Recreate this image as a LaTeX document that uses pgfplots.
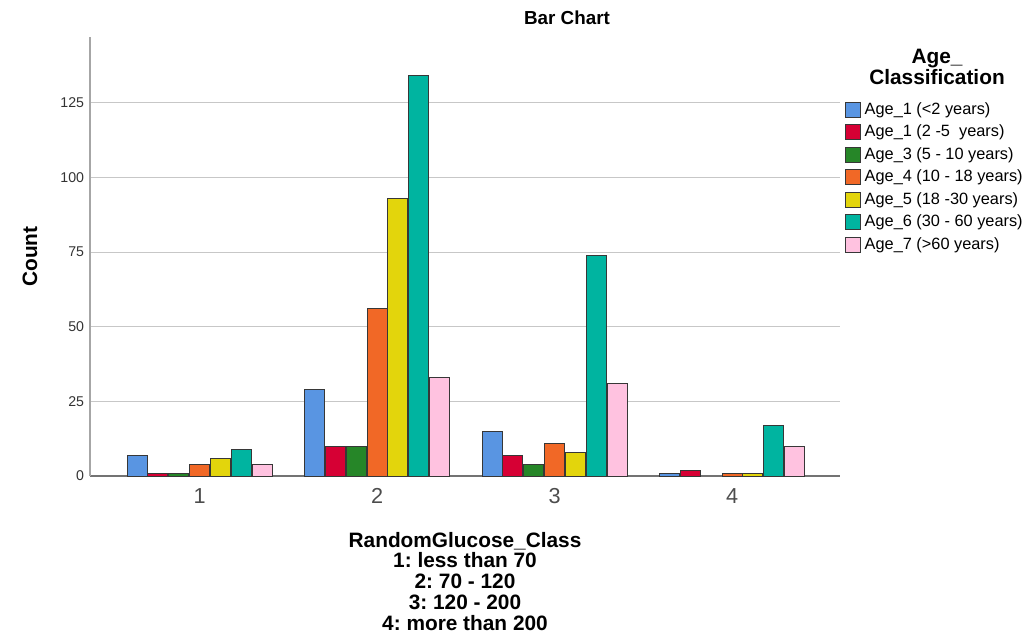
\documentclass[border=0pt]{standalone}
\usepackage{fontspec}
\setmainfont{Liberation Sans}
\usepackage{pgfplots}
\pgfplotsset{compat=1.18}
\definecolor{c1}{RGB}{89,149,226}
\definecolor{c2}{RGB}{214,0,52}
\definecolor{c3}{RGB}{38,134,40}
\definecolor{c4}{RGB}{241,104,38}
\definecolor{c5}{RGB}{227,213,12}
\definecolor{c6}{RGB}{0,180,160}
\definecolor{c7}{RGB}{255,194,224}
\definecolor{edge}{RGB}{55,55,55}
\frenchspacing
\begin{document}
\begin{tikzpicture}
\path[use as bounding box] (-54pt,-98.4pt) rectangle (566.4pt,285.6pt);
\begin{axis}[
  at={(0,0)}, anchor=south west,
  scale only axis, width=450pt, height=263.4pt,
  ybar=0.5pt, bar width=12pt,
  xmin=0.383, xmax=4.608, ymin=0, ymax=147,
  xtick={1,2,3,4}, ytick={0,25,...,125},
  axis lines=left,
  axis line style={-},
  x axis line style={draw=black!55, line width=0.8pt},
  y axis line style={draw=black!35, line width=0.8pt},
  major tick length=0pt,
  ymajorgrids, grid style={draw=black!22, line width=0.6pt},
  /pgf/number format/assume math mode=true,
  yticklabel style={font=\fontsize{8.5}{10}\selectfont, text=black!80},
  xticklabel style={font=\fontsize{13}{15}\selectfont, text=black!70, yshift=-4pt},
  xlabel={RandomGlucose\_Class\\1: less than 70\\2: 70 - 120\\3: 120 - 200\\4: more than 200},
  xlabel style={align=center, font=\bfseries\fontsize{12.5}{12.5}\selectfont, at={(axis description cs:0.5,-0.24)}, anchor=center},
  ylabel={Count},
  ylabel style={font=\bfseries\fontsize{12.5}{15}\selectfont, at={(axis description cs:-0.08,0.5)}, anchor=center},
  legend style={at={(1.0067,0.8565)}, anchor=north west, draw=none, fill=none, inner sep=0pt,
    font=\fontsize{9.8}{12}\selectfont, legend cell align=left, row sep=2pt, column sep=1pt,
    nodes={inner sep=1pt, text height=7.2pt, text depth=2.3pt}},
  legend image code/.code={\draw[#1, draw=edge, line width=0.6pt] (0pt,-4.5pt) rectangle (9pt,4.5pt);},
  every axis plot/.append style={draw=edge, line width=0.6pt},
]
\addplot[fill=c1] coordinates {(1,7) (2,29) (3,15) (4,1)};
\addlegendentry{Age\_1 (<2 years)}
\addplot[fill=c2] coordinates {(1,1) (2,10) (3,7) (4,2)};
\addlegendentry{Age\_1 (2 -5\ \ years)}
\addplot[fill=c3] coordinates {(1,1) (2,10) (3,4)};
\addlegendentry{Age\_3 (5 - 10 years)}
\addplot[fill=c4] coordinates {(1,4) (2,56) (3,11) (4,1)};
\addlegendentry{Age\_4 (10 - 18 years)}
\addplot[fill=c5] coordinates {(1,6) (2,93) (3,8) (4,1)};
\addlegendentry{Age\_5 (18 -30 years)}
\addplot[fill=c6] coordinates {(1,9) (2,134) (3,74) (4,17)};
\addlegendentry{Age\_6 (30 - 60 years)}
\addplot[fill=c7] coordinates {(1,4) (2,33) (3,31) (4,10)};
\addlegendentry{Age\_7 (>60 years)}
\end{axis}
\node[font=\bfseries\fontsize{11.3}{13}\selectfont] at (286.2pt,274.8pt) {Bar Chart};
\node[font=\bfseries\fontsize{12.5}{12.5}\selectfont, align=center] at (508.2pt,245.4pt) {Age\_\\Classification};
\end{tikzpicture}
\end{document}
